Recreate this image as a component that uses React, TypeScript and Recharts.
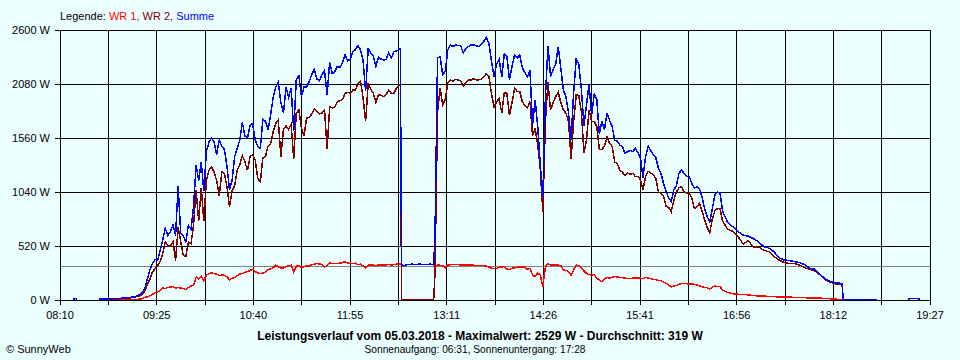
import React from 'react';
import { LineChart, Line, XAxis, YAxis, CartesianGrid, ReferenceLine } from 'recharts';

// minutes since midnight
const TIME = [
  // early blip + gap
  501, 501, 503, 503, 510,
  520, 522, 524, 526, 528, 530, 532, 534, 536, 538, 540, 542,
  544, 546, 548, 550, 552, 554, 556, 558, 560, 562, 564, 566,
  568, 570, 572, 574, 576, 578, 580, 582, 584, 586, 588, 590,
  592, 594, 596, 598, 600, 602, 604, 606, 608, 610, 612, 614,
  616, 618, 620, 622, 624, 626, 628, 630, 632, 634, 636, 638,
  640, 642, 644, 646, 648, 650, 652, 654, 656, 658, 660, 662,
  664, 666, 668, 670, 672, 674, 676, 678, 680, 682, 684, 686,
  688, 690, 692, 694, 696, 698, 700, 702, 704, 706, 708, 710,
  712, 714, 716, 718, 720, 722, 724, 726, 728, 730, 732, 734,
  736, 738, 740, 742, 744, 746, 748, 750, 752, 754, 755, 756,
  758, 760, 762, 764, 766, 768, 770, 772, 774, 776, 778, 780,
  781, 782, 784, 786, 788, 790, 792, 794, 796, 798, 800, 802,
  804, 806, 808,
  810, 812, 814, 816, 818, 820, 822, 824, 826, 828, 830, 832,
  834, 836, 838, 840, 842, 844, 846, 848, 850, 852, 854, 856,
  858, 860, 862, 864, 866, 868, 870, 872, 874, 876, 878, 880,
  882, 884, 886, 888, 890, 892, 894, 896, 898, 900, 902, 904,
  906,
  908, 910, 912, 914, 916, 918, 920, 922, 924, 926, 928, 930,
  932, 934, 936, 938, 940, 942, 944, 946, 948, 950, 952, 954,
  956, 958, 960, 962, 964, 966, 968, 970, 972, 974, 976, 978,
  980, 982, 984, 986, 988, 990, 992, 994, 996, 998, 1000, 1002,
  1004,
  1006, 1010, 1014, 1018, 1022, 1026, 1030, 1034, 1038, 1042, 1046, 1050,
  1054, 1058, 1062, 1066, 1070, 1074, 1078, 1082, 1086, 1090, 1094, 1098,
  1099, 1100, 1126,
  // late blip
  1140, 1151, 1151, 1159, 1159,
];

const WR1 = [
  null, null, null, null, null,
  0, 0, 0, 0, 0, 0, 0, 0, 0, 0, 0, 0,
  0, 2, 4, 6, 8, 12, 25, 30, 40, 55, 70, 75,
  95, 115, 110, 120, 125, 130, 115, 120, 115, 110, 100, 120,
  135, 140, 220, 200, 230, 185, 240, 255, 260, 255, 250, 235,
  240, 238, 225, 195, 210, 215, 235, 250, 255, 265, 273, 285,
  295, 275, 260, 255, 260, 270, 290, 300, 310, 335, 320, 305,
  310, 320, 330, 335, 270, 325, 330, 315, 320, 330, 328, 340,
  345, 350, 348, 340, 320, 330, 355, 352, 350, 350, 355, 360,
  370, 355, 352, 350, 355, 340, 345, 330, 305, 338, 338, 337,
  330, 337, 337, 337, 337, 342, 337, 342, 345, 345, 345, 337,
  327, 340, 343, 345, 343, 343, 345, 343, 342, 343, 345, 343,
  343, 320, 335, 335, 330, 310, 335, 340, 340, 340, 340, 338,
  335, 338, 335,
  337, 335, 333, 332, 330, 330, 328, 318, 305, 305, 305, 315,
  318, 322, 300, 292, 305, 310, 315, 320, 318, 315, 295, 305,
  240, 225, 260, 240, 130, 320, 350, 335, 338, 335, 338, 330,
  290, 285, 275, 235, 290, 338, 330, 310, 280, 255, 245, 240,
  245,
  210, 195, 175, 200, 220, 210, 218, 225, 222, 218, 215, 210,
  208, 208, 210, 210, 210, 210, 205, 218, 210, 205, 200, 195,
  190, 185, 175, 160, 145, 125, 135, 140, 150, 160, 158, 158,
  152, 155, 150, 145, 135, 128, 122, 118, 105, 125, 135, 130,
  128,
  95, 72, 60, 55, 52, 50, 42, 40, 37, 35, 32, 30,
  28, 28, 25, 22, 22, 20, 18, 18, 15, 12, 8, 3,
  0, 0, null,
  null, null, null, null, null,
];

const WR2 = [
  null, null, null, null, null,
  5, 5, 6, 8, 8, 10, 10, 12, 12, 14, 15, 18,
  20, 22, 26, 33, 40, 55, 85, 150, 200, 270, 300, 330,
  370, 450, 560, 520, 520, 560, 380, 700, 560, 430, 420, 560,
  540, 720, 1060, 760, 1080, 760, 1150, 1250, 1280, 1230, 1150, 1000,
  1235, 1220, 1090, 900, 1050, 1100, 1250, 1300, 1390, 1330, 1250, 1380,
  1400, 1350, 1170, 1140, 1370, 1380, 1480, 1500, 1620, 1700, 1735, 1380,
  1640, 1680, 1640, 1690, 1360, 1800, 1830, 1660, 1580, 1750, 1760, 1790,
  1840, 1820, 1790, 1800, 1830, 1450, 1860, 1850, 1860, 1910, 1920, 1930,
  1990, 2000, 1990, 2020, 2020, 2080, 2110, 1950, 1720, 2080, 2030, 1990,
  1900, 1980, 1970, 1960, 1980, 2020, 1990, 1990, 2040, 2070, 2080, 0,
  0, 0, 0, 0, 0, 0, 0, 0, 0, 0, 0, 0,
  0, 250, 1810, 2040, 1880, 1930, 2090, 2118, 2105, 2125, 2118, 2110,
  2060, 2090, 2118,
  2118, 2130, 2120, 2120, 2125, 2150, 2180, 2150, 1990, 1860, 1910, 1940,
  1800, 2000, 1990, 1780, 1900, 2040, 2010, 2010, 1910, 1870, 1850, 1910,
  1580, 1650, 1500, 1260, 850, 1720, 2100, 1830, 1900, 1960, 2000, 1900,
  1830, 1800, 1720, 1360, 1720, 1975, 1970, 1810, 1420, 1540, 1830, 1720,
  1720,
  1670, 1450, 1450, 1480, 1570, 1510, 1480, 1330, 1310, 1250, 1230, 1200,
  1220, 1210, 1220, 1190, 1190, 1160, 1060, 1190, 1240, 1220, 1210, 1170,
  1040, 1030, 1000, 900, 890, 850, 960, 1040, 1080, 1090, 1040, 1030,
  1030, 980, 880, 900, 930, 860, 770, 700, 650, 780, 860, 880,
  880,
  760, 680, 660, 610, 540, 570, 510, 510, 480, 465, 420, 385,
  360, 350, 350, 335, 310, 295, 280, 240, 195, 170, 155, 150,
  150, 0, null,
  null, null, null, null, null,
];

const SUMME = [
  0, 13, 13, 0, null,
  10, 10, 10, 12, 12, 13, 15, 15, 15, 18, 20, 22,
  25, 28, 32, 40, 50, 70, 110, 200, 290, 350, 390, 380,
  480, 580, 690, 620, 660, 720, 620, 1100, 640, 620, 560, 720,
  680, 900, 1300, 1150, 1330, 1050, 1430, 1520, 1560, 1520, 1400, 1540,
  1480, 1450, 1290, 1060, 1150, 1380, 1460, 1540, 1710, 1580, 1560, 1680,
  1700, 1540, 1480, 1460, 1740, 1720, 1640, 1780, 1950, 2050, 2100, 1900,
  1800, 2050, 1950, 2040, 1630, 2120, 2160, 1960, 2050, 2050, 2100, 2170,
  2220, 2130, 2110, 2170, 2210, 1970, 2290, 2180, 2200, 2250, 2240, 2290,
  2360, 2300, 2320, 2390, 2410, 2450, 2410, 2310, 2010, 2420, 2380, 2350,
  2250, 2340, 2320, 2310, 2320, 2380, 2330, 2390, 2400, 2410, 2420, 337,
  330, 340, 343, 345, 343, 343, 345, 343, 342, 343, 345, 343,
  343, 610, 2330, 2340, 2170, 2200, 2410, 2455, 2440, 2455, 2450, 2450,
  2380, 2420, 2440,
  2455, 2455, 2450, 2440, 2460, 2490, 2529, 2470, 2300, 2150, 2270, 2320,
  2150, 2370, 2350, 2120, 2250, 2360, 2330, 2360, 2240, 2190, 2150, 2210,
  1680, 1930, 1670, 1300, 990, 1950, 2450, 2150, 2220, 2270, 2440, 2230,
  2020, 1960, 1800, 1540, 2000, 2320, 2270, 2030, 1680, 1880, 2080, 1780,
  1980,
  1930, 1600, 1720, 1640, 1800, 1730, 1670, 1540, 1530, 1490, 1480, 1410,
  1430, 1440, 1430, 1460, 1420, 1370, 1180, 1380, 1480, 1440, 1400, 1370,
  1270, 1220, 1120, 1050, 980, 950, 1060, 1100, 1220, 1250, 1220, 1190,
  1190, 1120, 1080, 1090, 1070, 990, 880, 800, 750, 880, 1010, 1040,
  1030,
  855, 745, 705, 660, 625, 615, 590, 560, 515, 500, 465, 405,
  385, 380, 370, 360, 340, 305, 295, 240, 205, 175, 165, 160,
  160, 0, 0,
  null, 0, 14, 14, 0,
];

const AVERAGE = 319;
const Y_TICKS = [0, 520, 1040, 1560, 2080, 2600];
const X_LABELS = ['08:10', '09:25', '10:40', '11:55', '13:11', '14:26', '15:41', '16:56', '18:12', '19:27'];
const X_START = 490;
const X_END = 1167.5;

const X_TICKS = Array.from({ length: 19 }, (_, i) => X_START + (i * (X_END - X_START)) / 18);

const data = TIME.map((t, i) => ({ t, wr1: WR1[i], wr2: WR2[i], summe: SUMME[i] }));

const FONT = '"Liberation Sans", Arial, sans-serif';
const BG = '#ebffff';

export default function App() {
  const tickStyle = { fill: '#000', fontSize: 11, fontFamily: FONT };
  return (
    <div style={{ position: 'absolute', left: 0, top: 0, width: 960, height: 360, background: BG, fontFamily: FONT }}>
      <LineChart width={960} height={360} data={data} margin={{ top: 30, right: 30, bottom: 30, left: 0 }}>
        <CartesianGrid stroke="#000" strokeWidth={1} fill={BG} shapeRendering="crispEdges" />
        <XAxis
          dataKey="t"
          type="number"
          domain={[X_START, X_END]}
          ticks={X_TICKS}
          interval={0}
          height={30}
          tickSize={5}
          tickMargin={6}
          stroke="#000"
          tick={tickStyle}
          tickFormatter={(v: number, i: number) => (i % 2 === 0 ? X_LABELS[i / 2] : '')}
          shapeRendering="crispEdges"
        />
        <YAxis
          type="number"
          domain={[0, 2600]}
          ticks={Y_TICKS}
          interval={0}
          width={60}
          tickSize={5}
          tickMargin={5}
          stroke="#000"
          tick={tickStyle}
          tickFormatter={(v: number) => `${v} W`}
          shapeRendering="crispEdges"
        />
        <ReferenceLine y={AVERAGE} stroke="#808080" strokeWidth={1} shapeRendering="crispEdges" />
        <Line type="linear" dataKey="wr1" stroke="#ff0000" strokeWidth={1.5} dot={false} activeDot={false} isAnimationActive={false} connectNulls={false} shapeRendering="crispEdges" />
        <Line type="linear" dataKey="wr2" stroke="#800000" strokeWidth={1.5} dot={false} activeDot={false} isAnimationActive={false} connectNulls={false} shapeRendering="crispEdges" />
        <Line type="linear" dataKey="summe" stroke="#0000ff" strokeWidth={1.5} dot={false} activeDot={false} isAnimationActive={false} connectNulls={false} shapeRendering="crispEdges" />
      </LineChart>
      <div style={{ position: 'absolute', left: 60, top: 9, fontSize: 11, lineHeight: '14px', whiteSpace: 'nowrap' }}>
        <span style={{ color: '#000' }}>Legende: </span>
        <span style={{ color: '#ff0000' }}>WR 1, </span>
        <span style={{ color: '#800000' }}>WR 2, </span>
        <span style={{ color: '#0000ff' }}>Summe</span>
      </div>
      <div style={{ position: 'absolute', left: 0, width: 960, top: 329, textAlign: 'center', fontSize: 12, fontWeight: 'bold', lineHeight: '14px', whiteSpace: 'nowrap' }}>
        Leistungsverlauf vom 05.03.2018 - Maximalwert: 2529 W - Durchschnitt: 319 W
      </div>
      <div style={{ position: 'absolute', left: 0, width: 950, top: 343, textAlign: 'center', fontSize: 10.2, lineHeight: '14px', whiteSpace: 'nowrap' }}>
        Sonnenaufgang: 06:31, Sonnenuntergang: 17:28
      </div>
      <div style={{ position: 'absolute', left: 6, top: 342, fontSize: 11, lineHeight: '14px' }}>© SunnyWeb</div>
    </div>
  );
}
